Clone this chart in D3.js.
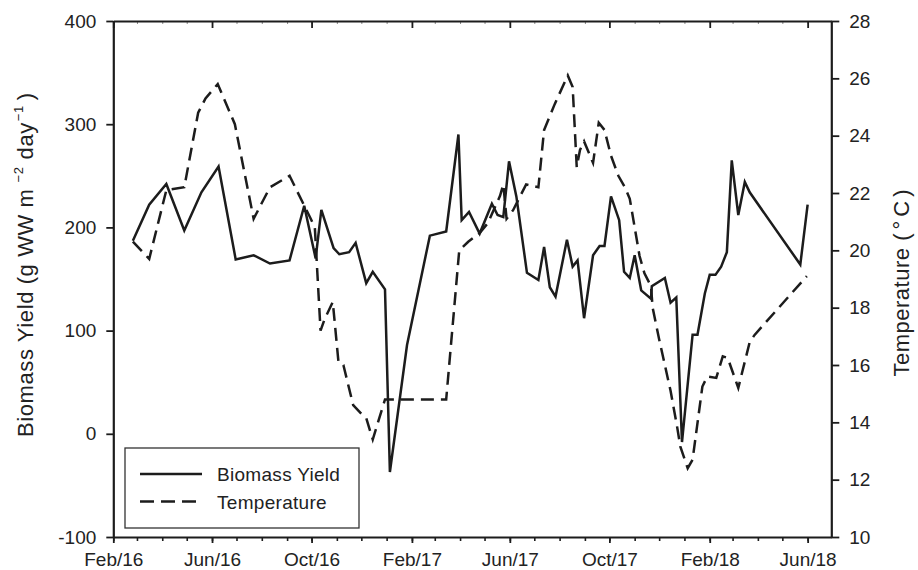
<!DOCTYPE html>
<html>
<head>
<meta charset="utf-8">
<script src="https://cdn.jsdelivr.net/npm/d3@7"></script>
<style>
  html, body { margin: 0; padding: 0; background: #fff; }
  svg { display: block; }
  text { font-family: "Liberation Sans", Arial, Helvetica, sans-serif; fill: #222; }
</style>
</head>
<body>
<svg id="chart" width="918" height="570"></svg>
<script>
// ---------- data ----------
const biomassDates = ["2016-02-25","2016-03-16","2016-04-06","2016-04-28","2016-05-19","2016-06-09","2016-06-30","2016-07-22","2016-08-11","2016-09-04","2016-09-22","2016-10-06","2016-10-13","2016-10-28","2016-11-04","2016-11-16","2016-11-24","2016-12-07","2016-12-15","2016-12-30","2017-01-05","2017-01-26","2017-02-23","2017-03-15","2017-03-30","2017-04-03","2017-04-12","2017-04-25","2017-05-10","2017-05-17","2017-05-24","2017-05-31","2017-06-09","2017-06-22","2017-07-06","2017-07-13","2017-07-20","2017-07-27","2017-08-10","2017-08-17","2017-08-23","2017-08-31","2017-09-11","2017-09-19","2017-09-25","2017-10-03","2017-10-13","2017-10-19","2017-10-26","2017-11-01","2017-11-09","2017-11-21","2017-11-22","2017-12-08","2017-12-15","2017-12-22","2017-12-29","2018-01-11","2018-01-17","2018-01-26","2018-02-01","2018-02-08","2018-02-15","2018-02-22","2018-02-28","2018-03-08","2018-03-16","2018-03-22","2018-05-23","2018-06-01"];
const biomassValues = [187,222,242,197,234,259,169,173,165,168,221,170,217,180,174,176,185,146,157,140,-37,86,192,196,290,207,215,194,223,212,210,264,230,156,149,181,142,133,188,162,168,112,173,182,182,230,207,157,151,173,139,131,143,151,127,132,-8,96,96,136,154,154,162,176,265,212,244,234,164,222];

const tempDates = ["2016-02-25","2016-03-16","2016-04-06","2016-04-28","2016-05-15","2016-05-24","2016-06-08","2016-06-29","2016-07-22","2016-08-11","2016-09-04","2016-09-30","2016-10-05","2016-10-12","2016-10-17","2016-10-27","2016-11-03","2016-11-09","2016-11-21","2016-12-01","2016-12-07","2016-12-15","2016-12-30","2017-03-15","2017-03-31","2017-04-11","2017-04-25","2017-05-05","2017-05-20","2017-05-24","2017-05-28","2017-06-05","2017-06-21","2017-07-06","2017-07-13","2017-07-26","2017-08-11","2017-08-17","2017-08-22","2017-08-26","2017-08-31","2017-09-11","2017-09-18","2017-09-25","2017-10-03","2017-10-12","2017-10-20","2017-10-26","2017-11-01","2017-11-07","2017-11-13","2017-11-21","2017-11-23","2017-12-01","2017-12-15","2017-12-23","2017-12-27","2018-01-05","2018-01-11","2018-01-23","2018-01-29","2018-02-09","2018-02-17","2018-02-23","2018-03-08","2018-03-22","2018-03-28","2018-05-31"];
const tempValues = [20.3,19.7,22.1,22.2,24.8,25.3,25.8,24.4,21.1,22.2,22.6,21.1,20.8,17.2,17.6,18.2,16.1,16.0,14.6,14.3,14.15,13.4,14.8,14.8,20.0,20.3,20.6,20.95,21.9,22.3,21.1,21.4,22.3,22.2,24.2,25.1,26.1,25.7,22.9,23.5,23.8,23.05,24.45,24.2,23.3,22.6,22.2,21.8,20.8,19.8,19.2,18.75,18.0,16.9,15.1,13.85,13.15,12.4,12.7,15.25,15.6,15.55,16.3,16.25,15.2,16.8,17.05,19.1];

const xTickDates = ["2016-02-01","2016-06-01","2016-10-01","2017-02-01","2017-06-01","2017-10-01","2018-02-01","2018-06-01"];
const xTickLabels = ["Feb/16","Jun/16","Oct/16","Feb/17","Jun/17","Oct/17","Feb/18","Jun/18"];
const yLeftTicks = [-100,0,100,200,300,400];
const yRightTicks = [10,12,14,16,18,20,22,24,26,28];
const seriesNames = ["Biomass Yield","Temperature"];

// ---------- layout ----------
const parse = d3.utcParse("%Y-%m-%d");
const L = 113.3, R = 831.3, T = 21, B = 537;
const svg = d3.select("#chart");
const ink = "#1c1c1c";

const x = d3.scaleUtc().domain([parse("2016-02-01"), parse("2018-06-30")]).range([L, R]);
const yL = d3.scaleLinear().domain([-100, 400]).range([B, T]);
const yR = d3.scaleLinear().domain([10, 28]).range([B, T]);

const monthTicks = d3.utcMonth.range(parse("2016-02-01"), parse("2018-06-30"));
const majorDates = xTickDates.map(parse);
const plain = d => String(d);

// minor monthly ticks bottom
svg.append("g").attr("transform", `translate(0,${B})`)
  .call(d3.axisBottom(x).tickValues(monthTicks).tickSizeInner(4).tickSizeOuter(0).tickFormat(""))
  .call(g => g.select(".domain").remove())
  .call(g => g.selectAll("line").attr("stroke", ink).attr("stroke-width", 1.6));
// minor ticks top (inward)
svg.append("g").attr("transform", `translate(0,${T})`)
  .call(d3.axisTop(x).tickValues(monthTicks).tickSizeInner(-3).tickSizeOuter(0).tickFormat(""))
  .call(g => g.select(".domain").remove())
  .call(g => g.selectAll("line").attr("stroke", "#888").attr("stroke-width", 1));

// major bottom
svg.append("g").attr("transform", `translate(0,${B})`)
  .call(d3.axisBottom(x).tickValues(majorDates).tickSizeInner(6).tickSizeOuter(0)
        .tickFormat((d, i) => xTickLabels[i]))
  .call(g => g.select(".domain").attr("stroke", ink).attr("stroke-width", 2.2))
  .call(g => g.selectAll("line").attr("stroke", ink).attr("stroke-width", 1.8))
  .call(g => g.selectAll("text").attr("y", 29).attr("dy", 0).attr("font-size", 19).attr("fill", "#222"));

// major top (inward)
svg.append("g").attr("transform", `translate(0,${T})`)
  .call(d3.axisTop(x).tickValues(majorDates).tickSizeInner(-7).tickSizeOuter(0).tickFormat(""))
  .call(g => g.select(".domain").attr("stroke", ink).attr("stroke-width", 2.2))
  .call(g => g.selectAll("line").attr("stroke", ink).attr("stroke-width", 1.8));

// left axis
svg.append("g").attr("transform", `translate(${L},0)`)
  .call(d3.axisLeft(yL).tickValues(yLeftTicks).tickSizeInner(7).tickSizeOuter(0).tickPadding(10).tickFormat(plain))
  .call(g => g.select(".domain").attr("stroke", ink).attr("stroke-width", 2.2))
  .call(g => g.selectAll("line").attr("stroke", ink).attr("stroke-width", 1.8))
  .call(g => g.selectAll("text").attr("font-size", 19).attr("fill", "#222"));

// right axis
svg.append("g").attr("transform", `translate(${R},0)`)
  .call(d3.axisRight(yR).tickValues(yRightTicks).tickSizeInner(8).tickSizeOuter(0).tickPadding(10).tickFormat(plain))
  .call(g => g.select(".domain").attr("stroke", ink).attr("stroke-width", 2.2))
  .call(g => g.selectAll("line").attr("stroke", ink).attr("stroke-width", 1.8))
  .call(g => g.selectAll("text").attr("font-size", 19).attr("fill", "#222"));

svg.selectAll("text").style("font-family", '"Liberation Sans", Arial, sans-serif');

// ---------- lines ----------
const biomass = biomassDates.map((d, i) => ({ date: parse(d), v: biomassValues[i] }));
const temp = tempDates.map((d, i) => ({ date: parse(d), v: tempValues[i] }));

svg.append("path").datum(temp)
  .attr("fill", "none").attr("stroke", ink).attr("stroke-width", 2.5)
  .attr("stroke-dasharray", "13,7").attr("stroke-linejoin", "miter")
  .attr("d", d3.line().x(d => x(d.date)).y(d => yR(d.v)));

svg.append("path").datum(biomass)
  .attr("fill", "none").attr("stroke", ink).attr("stroke-width", 2.5)
  .attr("stroke-linejoin", "miter")
  .attr("d", d3.line().x(d => x(d.date)).y(d => yL(d.v)));

// ---------- axis titles ----------
const lt = svg.append("text")
  .attr("transform", "translate(33,437) rotate(-90)")
  .attr("font-size", 22).attr("letter-spacing", 0.6).attr("fill", "#222");
lt.append("tspan").text("Biomass Yield (g WW m");
lt.append("tspan").attr("font-size", 13).attr("dx", 6).attr("dy", -10).text("\u22122");
lt.append("tspan").attr("dx", 7).attr("dy", 10).text("day");
lt.append("tspan").attr("font-size", 13).attr("dx", 1).attr("dy", -10).text("\u22121");
lt.append("tspan").attr("dx", 5).attr("dy", 10).text(")");

const rt = svg.append("text")
  .attr("transform", "translate(909,281) rotate(-90)")
  .attr("text-anchor", "middle")
  .attr("font-size", 22).attr("letter-spacing", 0.5).attr("fill", "#222");
rt.append("tspan").text("Temperature ");
rt.append("tspan").attr("letter-spacing", 4).text("(\u00B0C)");

// ---------- legend ----------
const lg = svg.append("g");
lg.append("rect").attr("x", 125).attr("y", 448).attr("width", 234).attr("height", 80)
  .attr("fill", "#fff").attr("stroke", "#333").attr("stroke-width", 1.3);
const legendRows = [{ name: seriesNames[0], dash: null, y: 474 }, { name: seriesNames[1], dash: "14,7", y: 501.5 }];
legendRows.forEach(r => {
  lg.append("line").attr("x1", 140).attr("x2", 202).attr("y1", r.y).attr("y2", r.y)
    .attr("stroke", ink).attr("stroke-width", 2.5).attr("stroke-dasharray", r.dash);
  lg.append("text").attr("x", 217).attr("y", r.y + 7).attr("font-size", 19)
    .attr("letter-spacing", 0.3).attr("fill", "#222").text(r.name);
});
</script>
</body>
</html>
